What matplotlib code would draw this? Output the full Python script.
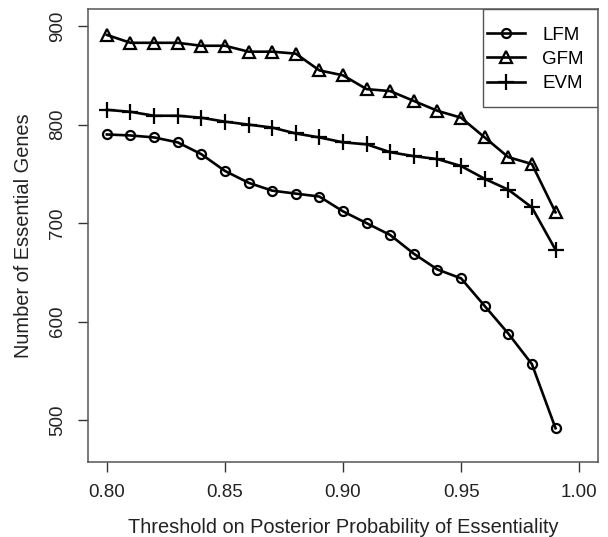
"""Essential gene counts vs posterior probability threshold, three models."""

import matplotlib

matplotlib.use("Agg")
import matplotlib.pyplot as plt
from matplotlib.patches import Rectangle

thresholds = [0.80, 0.81, 0.82, 0.83, 0.84, 0.85, 0.86, 0.87, 0.88, 0.89,
              0.90, 0.91, 0.92, 0.93, 0.94, 0.95, 0.96, 0.97, 0.98, 0.99]
lfm = [790, 789, 787, 782, 770, 753, 741, 733, 730, 727,
       712, 700, 688, 669, 653, 644, 616, 588, 557, 492]
gfm = [891, 883, 883, 883, 880, 880, 874, 874, 872, 855,
       850, 836, 834, 824, 814, 807, 787, 767, 760, 711]
evm = [815, 813, 809, 809, 807, 803, 800, 797, 791, 787,
       782, 780, 772, 768, 765, 758, 745, 734, 716, 673]

x_ticks = [0.80, 0.85, 0.90, 0.95, 1.00]
y_ticks = [500, 600, 700, 800, 900]

plt.rcParams["font.family"] = ["Liberation Sans", "DejaVu Sans"]

fig = plt.figure(figsize=(6.08, 5.37), dpi=100)
ax = fig.add_axes([0.1447, 0.1402, 0.8389, 0.8425])

style = dict(color="black", lw=1.9, markeredgewidth=1.6)
ax.plot(thresholds, lfm, marker="o", ms=6.5, mfc="none", label="LFM", **style)
ax.plot(thresholds, gfm, marker="^", ms=8, mfc="none", label="GFM", **style)
ax.plot(thresholds, evm, marker="+", ms=11, label="EVM", **style)

ax.set_xlim(0.792, 1.008)
ax.set_ylim(458, 917)
ax.set_xticks(x_ticks)
ax.set_xticklabels([f"{v:.2f}" for v in x_ticks])
ax.set_yticks(y_ticks)
ax.set_yticklabels([str(v) for v in y_ticks], rotation=90, va="center")
ax.tick_params(direction="out", length=7, width=1, labelsize=13.5, pad=9,
               color="#333333", labelcolor="#222222")

for s in ax.spines.values():
    s.set_color("#555555")
    s.set_linewidth(1.1)

ax.set_xlabel("Threshold on Posterior Probability of Essentiality",
              fontsize=14.4, labelpad=12, color="#222222")
ax.set_ylabel("Number of Essential Genes", fontsize=14.4, labelpad=11,
              color="#222222")

# legend box drawn separately so the padding can match the R layout
ax.add_patch(Rectangle((0.7745, 0.784), 0.2255, 0.216, transform=ax.transAxes,
                       fill=False, edgecolor="#555555", lw=1.0, zorder=5))
ax.legend(loc="upper left", bbox_to_anchor=(0.7824, 0.962), fontsize=13.5,
          frameon=False, borderaxespad=0, borderpad=0, handlelength=2.0,
          handletextpad=0.95, labelspacing=0.38)

fig.savefig("out.png", dpi=100)
